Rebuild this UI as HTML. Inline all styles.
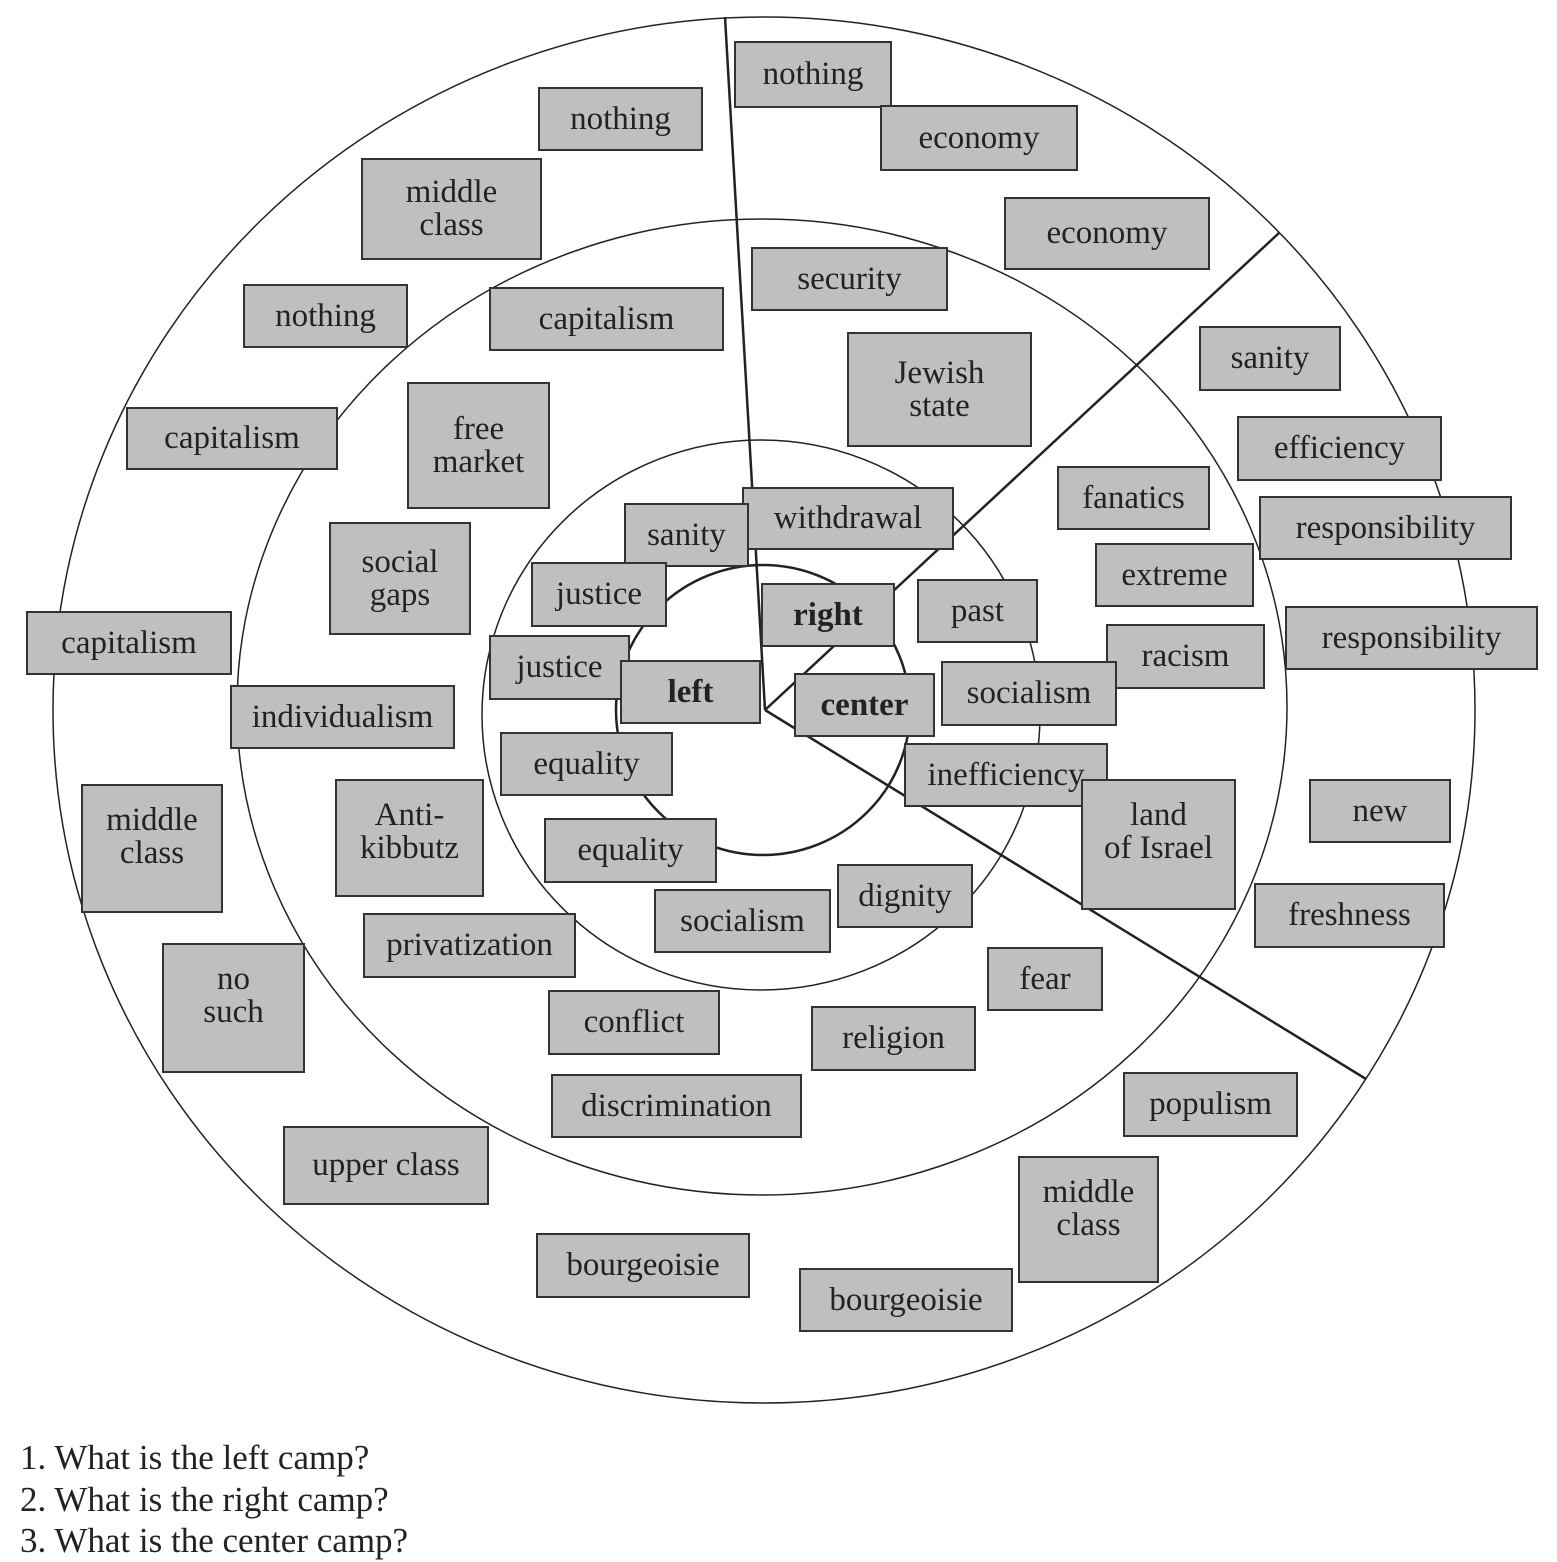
<!DOCTYPE html>
<html><head><meta charset="utf-8">
<style>
html,body{margin:0;padding:0;background:#fff;}
body{width:1557px;height:1539px;position:relative;overflow:hidden;font-family:"Liberation Serif",serif;color:#222;}
.b{position:absolute;box-sizing:border-box;background:#bfbfbf;border:2px solid #333;display:flex;align-items:center;justify-content:center;text-align:center;font-size:33px;line-height:33px;white-space:nowrap;}
.bold{font-weight:bold;}
.q{position:absolute;left:20px;font-size:35px;line-height:42px;}
svg{position:absolute;left:0;top:0;}
</style></head><body>
<svg width="1557" height="1539">
<g fill="none" stroke="#222" stroke-width="1.5">
<ellipse cx="764" cy="710" rx="711" ry="693"/>
<ellipse cx="762" cy="707" rx="525" ry="488"/>
<ellipse cx="761" cy="715" rx="279" ry="275"/>
<ellipse cx="763" cy="710" rx="147" ry="145" stroke-width="2.5"/>
</g>
<g stroke="#222" stroke-width="2.5">
<line x1="765" y1="710" x2="725" y2="17"/>
<line x1="765" y1="710" x2="1279" y2="233"/>
<line x1="765" y1="710" x2="1366" y2="1079"/>
</g>
</svg>
<div class="b" style="left:734px;top:41px;width:158px;height:67px">nothing</div>
<div class="b" style="left:880px;top:105px;width:198px;height:66px">economy</div>
<div class="b" style="left:1004px;top:197px;width:206px;height:73px">economy</div>
<div class="b" style="left:538px;top:87px;width:165px;height:64px">nothing</div>
<div class="b" style="left:361px;top:158px;width:181px;height:102px">middle<br>class</div>
<div class="b" style="left:751px;top:247px;width:197px;height:64px">security</div>
<div class="b" style="left:243px;top:284px;width:165px;height:64px">nothing</div>
<div class="b" style="left:489px;top:287px;width:235px;height:64px">capitalism</div>
<div class="b" style="left:847px;top:332px;width:185px;height:115px">Jewish<br>state</div>
<div class="b" style="left:1199px;top:326px;width:142px;height:65px">sanity</div>
<div class="b" style="left:126px;top:407px;width:212px;height:63px">capitalism</div>
<div class="b" style="left:407px;top:382px;width:143px;height:127px">free<br>market</div>
<div class="b" style="left:1237px;top:416px;width:205px;height:65px">efficiency</div>
<div class="b" style="left:1057px;top:466px;width:153px;height:64px">fanatics</div>
<div class="b" style="left:742px;top:487px;width:212px;height:63px">withdrawal</div>
<div class="b" style="left:624px;top:503px;width:125px;height:64px">sanity</div>
<div class="b" style="left:1259px;top:496px;width:253px;height:64px">responsibility</div>
<div class="b" style="left:329px;top:522px;width:142px;height:113px">social<br>gaps</div>
<div class="b" style="left:1095px;top:543px;width:159px;height:64px">extreme</div>
<div class="b" style="left:531px;top:562px;width:136px;height:65px">justice</div>
<div class="b bold" style="left:761px;top:583px;width:134px;height:64px">right</div>
<div class="b" style="left:917px;top:579px;width:121px;height:64px">past</div>
<div class="b" style="left:26px;top:611px;width:206px;height:64px">capitalism</div>
<div class="b" style="left:1285px;top:606px;width:253px;height:64px">responsibility</div>
<div class="b" style="left:1106px;top:624px;width:159px;height:65px">racism</div>
<div class="b" style="left:489px;top:635px;width:141px;height:65px">justice</div>
<div class="b bold" style="left:620px;top:660px;width:141px;height:64px">left</div>
<div class="b bold" style="left:794px;top:673px;width:141px;height:64px">center</div>
<div class="b" style="left:941px;top:661px;width:176px;height:65px">socialism</div>
<div class="b" style="left:230px;top:685px;width:225px;height:64px">individualism</div>
<div class="b" style="left:500px;top:732px;width:173px;height:64px">equality</div>
<div class="b" style="left:904px;top:743px;width:204px;height:64px">inefficiency</div>
<div class="b" style="left:1081px;top:779px;width:155px;height:131px;align-items:flex-start;padding-top:18px">land<br>of Israel</div>
<div class="b" style="left:81px;top:784px;width:142px;height:129px;align-items:flex-start;padding-top:18px">middle<br>class</div>
<div class="b" style="left:335px;top:779px;width:149px;height:118px;align-items:flex-start;padding-top:18px">Anti-<br>kibbutz</div>
<div class="b" style="left:1309px;top:779px;width:142px;height:64px">new</div>
<div class="b" style="left:544px;top:818px;width:173px;height:65px">equality</div>
<div class="b" style="left:837px;top:864px;width:136px;height:64px">dignity</div>
<div class="b" style="left:1254px;top:883px;width:191px;height:65px">freshness</div>
<div class="b" style="left:654px;top:889px;width:177px;height:64px">socialism</div>
<div class="b" style="left:363px;top:913px;width:213px;height:65px">privatization</div>
<div class="b" style="left:162px;top:943px;width:143px;height:130px;align-items:flex-start;padding-top:18px">no<br>such</div>
<div class="b" style="left:987px;top:947px;width:116px;height:64px">fear</div>
<div class="b" style="left:548px;top:990px;width:172px;height:65px">conflict</div>
<div class="b" style="left:811px;top:1006px;width:165px;height:65px">religion</div>
<div class="b" style="left:551px;top:1074px;width:251px;height:64px">discrimination</div>
<div class="b" style="left:1123px;top:1072px;width:175px;height:65px">populism</div>
<div class="b" style="left:283px;top:1126px;width:206px;height:79px">upper class</div>
<div class="b" style="left:1018px;top:1156px;width:141px;height:127px;align-items:flex-start;padding-top:18px">middle<br>class</div>
<div class="b" style="left:536px;top:1233px;width:214px;height:65px">bourgeoisie</div>
<div class="b" style="left:799px;top:1268px;width:214px;height:64px">bourgeoisie</div>
<div class="q" style="top:1437px">1. What is the left camp?</div>
<div class="q" style="top:1479px">2. What is the right camp?</div>
<div class="q" style="top:1520px">3. What is the center camp?</div>
</body></html>
